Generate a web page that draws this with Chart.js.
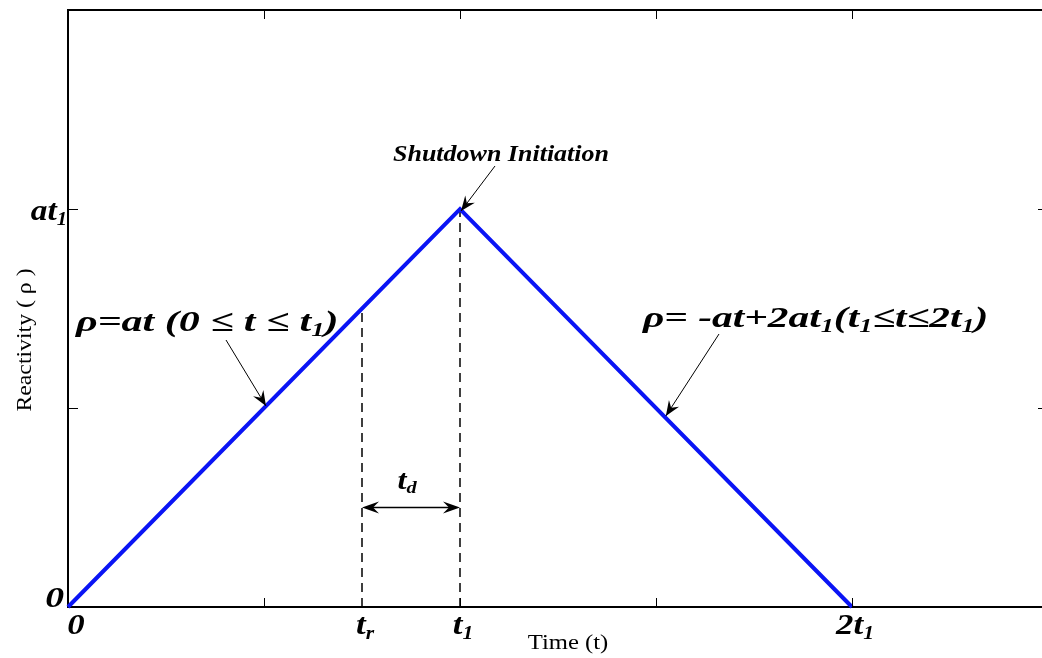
<!DOCTYPE html>
<html>
<head>
<meta charset="utf-8">
<script src="https://cdn.jsdelivr.net/npm/chart.js@4"></script>
<style>
  html, body { margin: 0; padding: 0; background: #fff; overflow: hidden; }
  #wrap { width: 1062px; height: 658px; }
</style>
</head>
<body>
<div id="wrap"><canvas id="rho" width="1062" height="658"></canvas></div>
<script>
// time in units of t1, reactivity in units of a*t1
const timePoints = [0, 1, 2];
const reactivity = [0, 1, 0];
const tR = 0.75;
const tOne = 1;

const xTickMarks = [0.5, 1, 1.5, 2];
const yTickMarks = [0.5, 1];
const xTickValues = [0, 0.75, 1, 2];
const xTickLabels = ["0", "t_r", "t_1", "2t_1"];
const yTickValues = [0, 1];
const yTickLabels = ["0", "at_1"];

const SERIF = "'Liberation Serif', 'Times New Roman', serif";

// text with "_x" meaning x is a subscript; sx stretches it sideways
function drawRich(ctx, str, x, y, size, align, sx = 1) {
  const parts = [];
  for (let i = 0; i < str.length; i++) {
    if (str[i] === "_" && i + 1 < str.length) {
      parts.push({ t: str[i + 1], sub: true });
      i++;
    } else {
      parts.push({ t: str[i], sub: false });
    }
  }
  const main = "italic bold " + size + "px " + SERIF;
  const small = "italic bold " + Math.round(size * 0.62) + "px " + SERIF;
  let w = 0;
  parts.forEach(p => { ctx.font = p.sub ? small : main; p.w = ctx.measureText(p.t).width; w += p.w; });
  w *= sx;
  const left = align === "center" ? x - w / 2 : align === "right" ? x - w : x;
  ctx.save();
  ctx.translate(left, y);
  ctx.scale(sx, 1);
  ctx.textAlign = "left";
  ctx.textBaseline = "alphabetic";
  let cx = 0;
  parts.forEach(p => {
    ctx.font = p.sub ? small : main;
    ctx.fillText(p.t, cx, p.sub ? size * 0.18 : 0);
    cx += p.w;
  });
  ctx.restore();
}

function arrowHead(ctx, x0, y0, x1, y1, len, half) {
  const ang = Math.atan2(y1 - y0, x1 - x0);
  ctx.beginPath();
  ctx.moveTo(x1, y1);
  ctx.lineTo(x1 - len * Math.cos(ang) + half * Math.sin(ang), y1 - len * Math.sin(ang) - half * Math.cos(ang));
  ctx.lineTo(x1 - len * 0.65 * Math.cos(ang), y1 - len * 0.65 * Math.sin(ang));
  ctx.lineTo(x1 - len * Math.cos(ang) - half * Math.sin(ang), y1 - len * Math.sin(ang) + half * Math.cos(ang));
  ctx.closePath();
  ctx.fill();
}

function arrow(ctx, x0, y0, x1, y1) {
  ctx.beginPath();
  ctx.moveTo(x0, y0);
  ctx.lineTo(x1, y1);
  ctx.stroke();
  arrowHead(ctx, x0, y0, x1, y1, 15, 6);
}

const decor = {
  id: "decor",
  afterDatasetsDraw(chart) {
    const { ctx, chartArea: a, scales: { x, y } } = chart;
    ctx.save();
    ctx.strokeStyle = "#000";
    ctx.fillStyle = "#000";

    // box top and right
    ctx.lineWidth = 2;
    ctx.beginPath();
    ctx.moveTo(a.left, a.top);
    ctx.lineTo(a.right, a.top);
    ctx.lineTo(a.right, a.bottom);
    ctx.stroke();

    // inward ticks
    ctx.lineWidth = 1;
    xTickMarks.forEach(v => {
      const px = Math.round(x.getPixelForValue(v)) + 0.5;
      ctx.beginPath();
      ctx.moveTo(px, a.bottom); ctx.lineTo(px, a.bottom - 9);
      ctx.moveTo(px, a.top); ctx.lineTo(px, a.top + 9);
      ctx.stroke();
    });
    yTickMarks.forEach(v => {
      const py = Math.round(y.getPixelForValue(v)) + 0.5;
      ctx.beginPath();
      ctx.moveTo(a.left, py); ctx.lineTo(a.left + 10, py);
      ctx.moveTo(a.right, py); ctx.lineTo(a.right - 10, py);
      ctx.stroke();
    });

    // tick labels
    xTickValues.forEach((v, i) => {
      drawRich(ctx, xTickLabels[i], x.getPixelForValue(v) + (v === 0 ? 8 : 3), a.bottom + 27, 29, "center", 1.2);
    });
    yTickValues.forEach((v, i) => {
      drawRich(ctx, yTickLabels[i], a.left - (v === 0 ? 4 : 1), y.getPixelForValue(v) + (v === 0 ? 0 : 11), 29, "right", v === 0 ? 1.3 : 1.15);
    });

    // axis titles
    ctx.font = "22px " + SERIF;
    ctx.textAlign = "center";
    ctx.textBaseline = "middle";
    ctx.save();
    ctx.translate(568, 643);
    ctx.scale(1.12, 1);
    ctx.fillText("Time (t)", 0, 0);
    ctx.restore();
    ctx.save();
    ctx.translate(25, 340);
    ctx.rotate(-Math.PI / 2);
    ctx.scale(1.08, 1);
    ctx.fillText("Reactivity ( \u03C1 )", 0, 0);
    ctx.restore();

    // t_d span between t_r and t1
    const yd = y.getPixelForValue(0.25);
    const xa = x.getPixelForValue(tR), xb = x.getPixelForValue(tOne);
    ctx.lineWidth = 1.5;
    ctx.beginPath();
    ctx.moveTo(xa + 8, yd); ctx.lineTo(xb - 8, yd);
    ctx.stroke();
    arrowHead(ctx, xb, yd, xa, yd, 17, 6);
    arrowHead(ctx, xa, yd, xb, yd, 17, 6);
    drawRich(ctx, "t_d", (xa + xb) / 2 - 4, yd - 19, 27, "center", 1.2);

    // annotations
    ctx.lineWidth = 1;
    const peakX = x.getPixelForValue(1), peakY = y.getPixelForValue(1);
    drawRich(ctx, "Shutdown Initiation", 501, 161, 23, "center", 1.13);
    arrow(ctx, 495, 166, peakX + 1, peakY + 2);

    drawRich(ctx, "\u03C1=at (0 \u2264 t \u2264 t_1)", 76, 331, 30, "left", 1.4);
    arrow(ctx, 226, 340, x.getPixelForValue(0.5) + 2, y.getPixelForValue(0.5) - 2);

    drawRich(ctx, "\u03C1= -at+2at_1(t_1\u2264t\u22642t_1)", 643, 327, 30, "left", 1.38);
    arrow(ctx, 719, 334, x.getPixelForValue(1.52) + 2, y.getPixelForValue(0.48));

    ctx.restore();
  }
};

new Chart(document.getElementById("rho"), {
  type: "scatter",
  data: {
    datasets: [
      {
        data: timePoints.map((t, i) => ({ x: t, y: reactivity[i] })),
        showLine: true,
        borderColor: "#0a14f5",
        borderWidth: 4,
        pointRadius: 0,
        clip: false,
        order: 1
      },
      {
        data: [{ x: tR, y: 0 }, { x: tR, y: tR }],
        showLine: true,
        borderColor: "#000",
        borderWidth: 1.5,
        borderDash: [9, 6],
        pointRadius: 0,
        order: 2
      },
      {
        data: [{ x: tOne, y: 0 }, { x: tOne, y: 1 }],
        showLine: true,
        borderColor: "#000",
        borderWidth: 1.5,
        borderDash: [9, 6],
        pointRadius: 0,
        order: 2
      }
    ]
  },
  options: {
    responsive: false,
    animation: false,
    layout: { padding: { top: 10, right: 14, left: 0, bottom: 0 } },
    plugins: { legend: { display: false }, tooltip: { enabled: false } },
    scales: {
      x: {
        type: "linear",
        min: 0,
        max: 2.5,
        ticks: { display: false },
        grid: { display: false },
        border: { display: true, color: "#000", width: 2 },
        afterFit: s => { s.height = 51; }
      },
      y: {
        type: "linear",
        min: 0,
        max: 1.5,
        ticks: { display: false },
        grid: { display: false },
        border: { display: true, color: "#000", width: 2 },
        afterFit: s => { s.width = 68; }
      }
    }
  },
  plugins: [decor]
});
</script>
</body>
</html>
